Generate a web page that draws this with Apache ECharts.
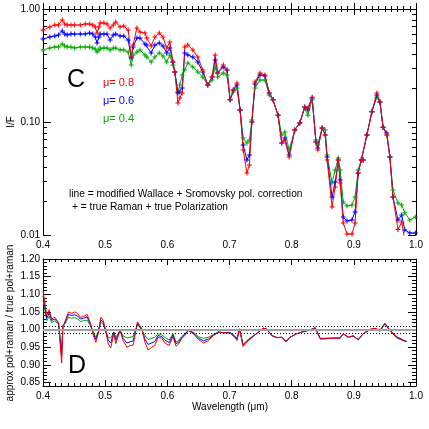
<!DOCTYPE html>
<html>
<head>
<meta charset="utf-8">
<script src="https://cdn.jsdelivr.net/npm/echarts@6/dist/echarts.min.js"></script>
<style>
  html, body { margin: 0; padding: 0; background: #fff; }
  #chart { width: 429px; height: 429px; }
</style>
</head>
<body>
<div id="chart"></div>
<script>
// panel C : I/F for three mu values
const wlTop = [
  0.400, 0.411, 0.419, 0.425, 0.431, 0.435, 0.439, 0.445,
  0.451, 0.460, 0.468, 0.475, 0.480, 0.484, 0.487, 0.490,
  0.492, 0.498, 0.503, 0.508, 0.513, 0.517, 0.524, 0.530,
  0.537, 0.542, 0.545, 0.551, 0.556, 0.564, 0.567, 0.574,
  0.580, 0.587, 0.593, 0.599, 0.604, 0.609, 0.612, 0.617,
  0.620, 0.624, 0.628, 0.633, 0.641, 0.649, 0.657, 0.665,
  0.672, 0.677, 0.681, 0.690, 0.696, 0.701, 0.706, 0.712,
  0.717, 0.722, 0.728, 0.732, 0.736, 0.741, 0.749, 0.757,
  0.764, 0.770, 0.778, 0.784, 0.789, 0.796, 0.805, 0.813,
  0.821, 0.826, 0.833, 0.839, 0.842, 0.849, 0.854, 0.857,
  0.865, 0.870, 0.875, 0.878, 0.883, 0.889, 0.897, 0.902,
  0.907, 0.912, 0.915, 0.921, 0.929, 0.937, 0.942, 0.947,
  0.953, 0.958, 0.963, 0.971, 0.977, 0.982, 0.990, 0.999
]
const redTop = [
  0.652, 0.693, 0.722, 0.722, 0.800, 0.737, 0.722, 0.722,
  0.722, 0.722, 0.737, 0.737, 0.722, 0.693, 0.613, 0.693,
  0.752, 0.752, 0.737, 0.679, 0.722, 0.767, 0.693, 0.707,
  0.652, 0.376, 0.480, 0.679, 0.626, 0.613, 0.554, 0.471,
  0.565, 0.613, 0.565, 0.452, 0.511, 0.340, 0.277, 0.147,
  0.163, 0.181, 0.461, 0.480, 0.434, 0.376, 0.288, 0.212,
  0.250, 0.392, 0.271, 0.319, 0.288, 0.157, 0.192, 0.221,
  0.128, 0.0565, 0.0354, 0.0416, 0.100, 0.226, 0.271, 0.261,
  0.181, 0.157, 0.115, 0.0652, 0.0693, 0.0490, 0.085, 0.098,
  0.136, 0.133, 0.166, 0.0665, 0.0565, 0.0885, 0.0767, 0.0461,
  0.0177, 0.0266, 0.0461, 0.0289, 0.0128, 0.0102, 0.0102, 0.0128,
  0.0354, 0.0461, 0.0461, 0.0767, 0.123, 0.181, 0.150, 0.090,
  0.0767, 0.049, 0.0217, 0.0112, 0.0130, 0.0090, 0.0082, 0.0082
]
const blueTop = [
  0.543, 0.565, 0.577, 0.589, 0.639, 0.601, 0.589, 0.601,
  0.601, 0.601, 0.601, 0.613, 0.601, 0.565, 0.500, 0.565,
  0.601, 0.601, 0.601, 0.532, 0.589, 0.601, 0.577, 0.577,
  0.532, 0.368, 0.461, 0.554, 0.554, 0.490, 0.480, 0.408,
  0.480, 0.500, 0.471, 0.408, 0.452, 0.340, 0.277, 0.181,
  0.184, 0.200, 0.408, 0.392, 0.376, 0.340, 0.277, 0.212,
  0.250, 0.354, 0.271, 0.307, 0.288, 0.157, 0.192, 0.212,
  0.128, 0.0626, 0.0461, 0.0510, 0.100, 0.217, 0.261, 0.255,
  0.181, 0.157, 0.115, 0.0652, 0.0722, 0.0510, 0.085, 0.098,
  0.136, 0.128, 0.163, 0.0665, 0.0589, 0.0885, 0.0767, 0.0490,
  0.0217, 0.0294, 0.0461, 0.0307, 0.0144, 0.0133, 0.0136, 0.0160,
  0.0354, 0.0461, 0.0461, 0.0767, 0.123, 0.173, 0.150, 0.090,
  0.080, 0.049, 0.0217, 0.0136, 0.015, 0.0111, 0.0104, 0.0104
]
const greenTop = [
  0.434, 0.452, 0.461, 0.461, 0.490, 0.471, 0.461, 0.461,
  0.452, 0.461, 0.461, 0.461, 0.452, 0.443, 0.416, 0.434,
  0.452, 0.452, 0.452, 0.434, 0.452, 0.452, 0.434, 0.434,
  0.416, 0.319, 0.392, 0.416, 0.434, 0.392, 0.376, 0.340,
  0.376, 0.408, 0.384, 0.340, 0.392, 0.319, 0.277, 0.184,
  0.212, 0.261, 0.288, 0.333, 0.307, 0.277, 0.250, 0.212,
  0.235, 0.307, 0.250, 0.271, 0.261, 0.157, 0.184, 0.200,
  0.128, 0.0722, 0.0652, 0.0693, 0.104, 0.200, 0.235, 0.235,
  0.173, 0.157, 0.115, 0.0767, 0.0816, 0.0565, 0.085, 0.098,
  0.133, 0.115, 0.157, 0.0693, 0.0626, 0.0885, 0.085, 0.0510,
  0.0289, 0.0376, 0.0480, 0.0376, 0.0196, 0.0181, 0.0184, 0.0217,
  0.0376, 0.0461, 0.0461, 0.0767, 0.123, 0.166, 0.150, 0.090,
  0.0767, 0.049, 0.025, 0.0192, 0.0184, 0.0157, 0.0136, 0.0144
]

// panel D : approx / true ratio
const wlRatio = [
  0.400, 0.403, 0.406, 0.410, 0.414, 0.419, 0.425, 0.427,
  0.430, 0.432, 0.435, 0.441, 0.446, 0.451, 0.456, 0.460,
  0.465, 0.471, 0.476, 0.481, 0.485, 0.489, 0.493, 0.497,
  0.501, 0.505, 0.509, 0.514, 0.517, 0.524, 0.529, 0.535,
  0.540, 0.545, 0.552, 0.559, 0.564, 0.569, 0.575, 0.580,
  0.585, 0.591, 0.596, 0.603, 0.609, 0.614, 0.618, 0.623,
  0.628, 0.634, 0.642, 0.650, 0.658, 0.666, 0.674, 0.682,
  0.690, 0.701, 0.709, 0.712, 0.716, 0.722, 0.730, 0.738,
  0.746, 0.754, 0.760, 0.768, 0.776, 0.784, 0.791, 0.797,
  0.808, 0.819, 0.829, 0.838, 0.846, 0.862, 0.878, 0.883,
  0.891, 0.899, 0.907, 0.915, 0.926, 0.934, 0.942, 0.950,
  0.958, 0.969, 0.980, 0.985
]
const redRatio = [
  1.110, 1.075, 1.040, 1.056, 1.030, 1.035, 1.020, 1.016,
  0.905, 1.010, 1.021, 1.050, 1.046, 1.050, 1.045, 1.035,
  1.037, 1.043, 1.020, 0.983, 0.964, 0.990, 1.035, 1.026,
  0.995, 0.959, 0.948, 0.990, 0.960, 0.998, 0.968, 0.950,
  0.955, 0.956, 1.022, 1.002, 0.964, 0.942, 0.950, 0.955,
  0.978, 0.975, 0.962, 0.955, 0.980, 0.953, 0.959, 0.974,
  0.983, 0.997, 0.988, 0.972, 0.962, 0.968, 0.982, 0.993,
  0.991, 0.990, 0.977, 0.969, 1.002, 0.952, 0.968, 0.980,
  0.992, 1.004, 1.001, 0.983, 0.977, 0.978, 0.965, 0.978,
  0.988, 0.995, 0.999, 1.005, 0.973, 0.975, 0.976, 0.988,
  0.978, 0.982, 0.970, 0.988, 1.001, 1.004, 0.998, 1.018,
  0.999, 0.980, 0.970, 0.966
]
const blueRatio = [
  1.096, 1.065, 1.032, 1.047, 1.026, 1.030, 1.018, 1.014,
  0.925, 1.010, 1.018, 1.043, 1.040, 1.042, 1.038, 1.030,
  1.032, 1.036, 1.016, 0.988, 0.972, 0.993, 1.028, 1.020,
  0.995, 0.970, 0.962, 0.992, 0.970, 0.998, 0.975, 0.962,
  0.965, 0.968, 1.018, 1.000, 0.973, 0.958, 0.962, 0.966,
  0.983, 0.980, 0.970, 0.963, 0.985, 0.960, 0.964, 0.977,
  0.986, 0.998, 0.990, 0.976, 0.968, 0.973, 0.984, 0.993,
  0.991, 0.991, 0.979, 0.972, 1.002, 0.955, 0.970, 0.981,
  0.992, 1.004, 1.001, 0.983, 0.977, 0.978, 0.966, 0.978,
  0.988, 0.994, 0.999, 1.005, 0.974, 0.975, 0.976, 0.988,
  0.978, 0.982, 0.971, 0.988, 1.000, 1.003, 0.996, 1.017,
  0.998, 0.978, 0.969, 0.966
]
const greenRatio = [
  1.083, 1.055, 1.025, 1.038, 1.020, 1.025, 1.015, 1.012,
  0.945, 1.008, 1.015, 1.035, 1.032, 1.034, 1.030, 1.022,
  1.025, 1.027, 1.012, 0.993, 0.978, 0.995, 1.021, 1.015,
  0.995, 0.978, 0.976, 0.993, 0.978, 0.997, 0.982, 0.976,
  0.978, 0.981, 1.014, 0.998, 0.983, 0.972, 0.975, 0.978,
  0.988, 0.985, 0.978, 0.970, 0.988, 0.965, 0.969, 0.980,
  0.988, 0.998, 0.992, 0.980, 0.975, 0.978, 0.986, 0.993,
  0.991, 0.992, 0.981, 0.975, 1.000, 0.958, 0.972, 0.982,
  0.992, 1.003, 1.001, 0.983, 0.978, 0.978, 0.967, 0.978,
  0.988, 0.994, 0.998, 1.004, 0.975, 0.976, 0.976, 0.988,
  0.979, 0.982, 0.972, 0.988, 0.999, 1.002, 0.995, 1.016,
  0.997, 0.976, 0.968, 0.966
]

const ratioTicks = [0.85, 0.90, 0.95, 1.00, 1.05, 1.10, 1.15, 1.20]
const muLabels = ['\u03bc= 0.8', '\u03bc= 0.6', '\u03bc= 0.4']

const RED = '#ff0000', BLUE = '#0000ff', GREEN = '#00a800'
const FONT = 'Liberation Sans, Arial, Helvetica, sans-serif'
const PLUS = 'path://M4,0H6V4H10V6H6V10H4V6H0V4H4Z'

// minor tick positions for the log axis (drawn on a helper linear axis in log10 units)
const logMinor = []
for (let d = -2; d < 0; d++) {
  for (let k = 2; k <= 9; k++) logMinor.push(d + Math.log10(k))
}
const ratioMinor = []
for (let i = 84; i <= 120; i++) ratioMinor.push(i / 100)

const pair = (xs, ys) => xs.map((x, i) => [x, ys[i]])

const chart = echarts.init(document.getElementById('chart'), null, { renderer: 'canvas' })

const axisLine = { show: true, lineStyle: { color: '#000', width: 1 } }
const lbl = { color: '#000', fontSize: 10, fontFamily: FONT }

function xAxisFor(grid, pos, showLabel) {
  return {
    type: 'value', gridIndex: grid, position: pos, min: 0.4, max: 1.0, interval: 0.1,
    axisLine: axisLine,
    axisTick: { show: true, inside: true, length: 6, lineStyle: { color: '#000' } },
    minorTick: { show: true, splitNumber: 10, length: 3, lineStyle: { color: '#000' } },
    axisLabel: Object.assign({ show: showLabel, margin: 5, formatter: v => v.toFixed(1) }, lbl),
    splitLine: { show: false }
  }
}

const yAxes = [
  // 0,1 : log axis of panel C
  {
    type: 'log', logBase: 10, gridIndex: 0, position: 'left', min: 0.01, max: 1,
    axisLine: axisLine,
    axisTick: { show: true, inside: true, length: 8, lineStyle: { color: '#000' } },
    axisLabel: Object.assign({ margin: 3, formatter: v => Number(v).toFixed(2) }, lbl),
    splitLine: { show: false }
  },
  {
    type: 'log', logBase: 10, gridIndex: 0, position: 'right', min: 0.01, max: 1,
    axisLine: axisLine,
    axisTick: { show: true, inside: true, length: 8, lineStyle: { color: '#000' } },
    axisLabel: { show: false }, splitLine: { show: false }
  },
  // 2,3 : minor ticks for panel C
  {
    type: 'value', gridIndex: 0, position: 'left', min: -2, max: 0,
    axisLine: { show: false },
    axisTick: { show: true, inside: true, length: 4, customValues: logMinor, lineStyle: { color: '#000' } },
    axisLabel: { show: false }, splitLine: { show: false }
  },
  {
    type: 'value', gridIndex: 0, position: 'right', min: -2, max: 0,
    axisLine: { show: false },
    axisTick: { show: true, inside: true, length: 4, customValues: logMinor, lineStyle: { color: '#000' } },
    axisLabel: { show: false }, splitLine: { show: false }
  },
  // 4,5 : ratio axis of panel D
  {
    type: 'value', gridIndex: 1, position: 'left', min: 0.84, max: 1.20,
    axisLine: axisLine,
    axisTick: { show: true, inside: true, length: 8, customValues: ratioTicks, lineStyle: { color: '#000' } },
    axisLabel: Object.assign({ margin: 3, customValues: ratioTicks, formatter: v => v.toFixed(2) }, lbl),
    splitLine: { show: false }
  },
  {
    type: 'value', gridIndex: 1, position: 'right', min: 0.84, max: 1.20,
    axisLine: axisLine,
    axisTick: { show: true, inside: true, length: 8, customValues: ratioTicks, lineStyle: { color: '#000' } },
    axisLabel: { show: false }, splitLine: { show: false }
  },
  // 6,7 : minor ticks for panel D
  {
    type: 'value', gridIndex: 1, position: 'left', min: 0.84, max: 1.20,
    axisLine: { show: false },
    axisTick: { show: true, inside: true, length: 4, customValues: ratioMinor, lineStyle: { color: '#000' } },
    axisLabel: { show: false }, splitLine: { show: false }
  },
  {
    type: 'value', gridIndex: 1, position: 'right', min: 0.84, max: 1.20,
    axisLine: { show: false },
    axisTick: { show: true, inside: true, length: 4, customValues: ratioMinor, lineStyle: { color: '#000' } },
    axisLabel: { show: false }, splitLine: { show: false }
  }
]

function specSeries(ys, color) {
  return {
    type: 'line', xAxisIndex: 0, yAxisIndex: 0, data: pair(wlTop, ys),
    symbol: PLUS, symbolSize: 5, showSymbol: true,
    itemStyle: { color: color },
    lineStyle: { color: color, width: 1 },
    animation: false, clip: true
  }
}

function ratioSeries(ys, color) {
  return {
    type: 'line', xAxisIndex: 2, yAxisIndex: 4, data: pair(wlRatio, ys),
    symbol: 'none', lineStyle: { color: color, width: 1 },
    animation: false, clip: true, z: 3
  }
}

const text = (t, x, y, size, color, extra) => Object.assign({
  type: 'text', x: x, y: y,
  style: { text: t, fill: color || '#000', font: size + 'px ' + FONT, textVerticalAlign: 'middle' }
}, extra || {})

const option = {
  backgroundColor: '#fff',
  animation: false,
  grid: [
    { left: 43, top: 9, width: 373, height: 226 },
    { left: 43, top: 259, width: 373, height: 127 }
  ],
  xAxis: [
    xAxisFor(0, 'bottom', true),
    xAxisFor(0, 'top', false),
    xAxisFor(1, 'bottom', true),
    xAxisFor(1, 'top', false)
  ],
  yAxis: yAxes,
  series: [
    specSeries(greenTop, GREEN),
    specSeries(blueTop, BLUE),
    specSeries(redTop, RED),
    // reference lines at 1.00 and +-0.01
    {
      type: 'line', xAxisIndex: 2, yAxisIndex: 4, data: [], z: 1,
      markLine: {
        silent: true, symbol: 'none', label: { show: false }, animation: false,
        data: [
          { yAxis: 1.0, lineStyle: { color: '#a0a0a0', width: 2, type: 'solid' } },
          { yAxis: 1.01, lineStyle: { color: '#000', width: 1, type: [1, 2] } },
          { yAxis: 0.99, lineStyle: { color: '#000', width: 1, type: [1, 2] } }
        ]
      }
    },
    ratioSeries(greenRatio, GREEN),
    ratioSeries(blueRatio, BLUE),
    ratioSeries(redRatio, RED)
  ],
  graphic: [
    text('C', 67, 80, 25),
    text(muLabels[0], 103, 83, 11, RED),
    text(muLabels[1], 103, 101, 11, BLUE),
    text(muLabels[2], 103, 119, 11, GREEN),
    text('line = modified Wallace + Sromovsky pol. correction', 69, 194, 10.2),
    text('+ = true Raman + true Polarization', 72, 207, 10.2),
    text('D', 68, 366, 25),
    text('I/F', 11, 122, 10, '#000', { rotation: Math.PI / 2, style: { text: 'I/F', fill: '#000', font: '10px ' + FONT, textAlign: 'center', textVerticalAlign: 'middle' } }),
    text('', 10, 323, 10, '#000', { rotation: Math.PI / 2, style: { text: 'approx pol+raman / true pol+raman', fill: '#000', font: '10px ' + FONT, textAlign: 'center', textVerticalAlign: 'middle' } }),
    text('', 230, 407, 10, '#000', { style: { text: 'Wavelength (\u03bcm)', fill: '#000', font: '10px ' + FONT, textAlign: 'center', textVerticalAlign: 'middle' } })
  ]
}

chart.setOption(option)
</script>
</body>
</html>
